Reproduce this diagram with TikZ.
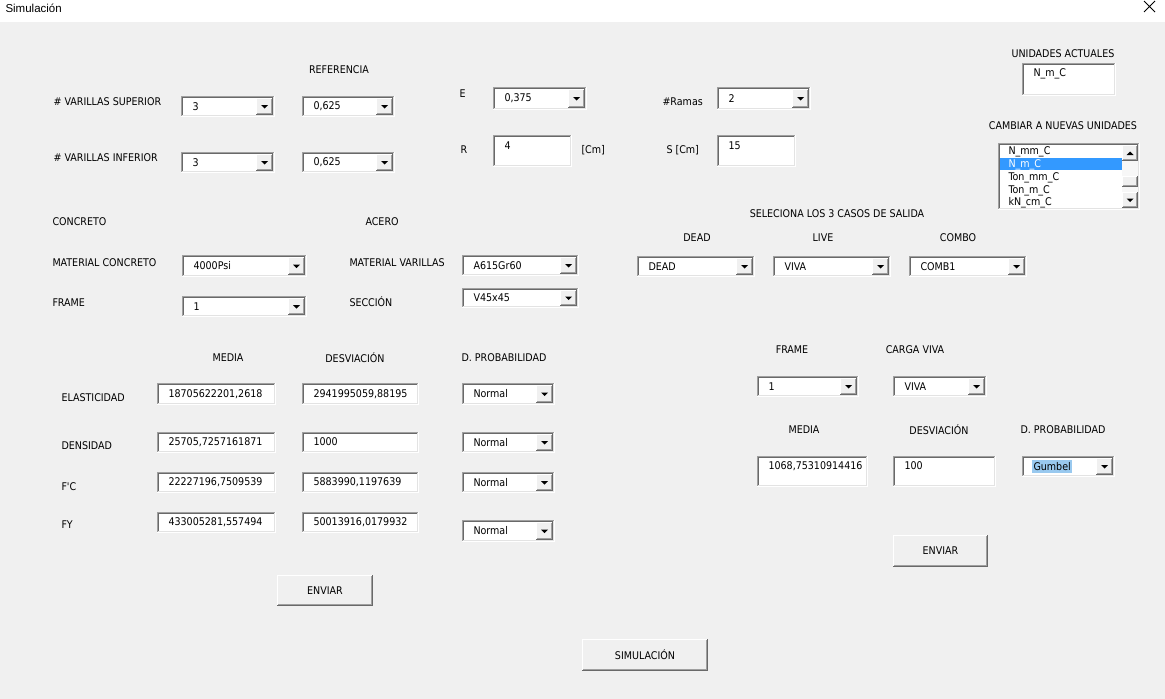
\documentclass[tikz,border=0pt]{standalone}
\usepackage{fontspec}
\newfontfamily\ui{DejaVu Sans Condensed}
\newfontfamily\ttl{Liberation Sans}
\definecolor{bg}{HTML}{F0F0F0}
\definecolor{dk}{HTML}{696969}
\definecolor{md}{HTML}{A0A0A0}
\definecolor{lt}{HTML}{E3E3E3}
\definecolor{sel}{HTML}{3399FF}
\definecolor{hl}{HTML}{99C9EF}
\definecolor{btnface}{HTML}{F0F0F0}
\definecolor{track}{HTML}{F7F7F7}
\tikzset{
 lbl/.style={anchor=west,inner sep=0pt,font=\ui\fontsize{10.6}{12}\selectfont},
 clbl/.style={anchor=center,inner sep=0pt,font=\ui\fontsize{10.6}{12}\selectfont},
 val/.style={anchor=west,inner sep=0pt,font=\ui\fontsize{10.6}{12}\selectfont},
 face/.style={inner sep=0pt,outer sep=0pt,anchor=north west,draw=none},
}
\newcommand\sunken[5]{%
 \node[face,fill=white,minimum width={(#4)-(#2)},minimum height={(#5)-(#3)}] (#1) at ({#2},{#3}) {};
 \draw[md] ({(#2)+0.5},{#5}) -- ({(#2)+0.5},{(#3)+0.5}) -- ({#4},{(#3)+0.5});
 \draw[dk] ({(#2)+1.5},{(#5)-1}) -- ({(#2)+1.5},{(#3)+1.5}) -- ({(#4)-1},{(#3)+1.5});
 \draw[white] ({#2},{(#5)-0.5}) -- ({(#4)-0.5},{(#5)-0.5}) -- ({(#4)-0.5},{#3});
 \draw[lt] ({(#2)+1},{(#5)-1.5}) -- ({(#4)-1.5},{(#5)-1.5}) -- ({(#4)-1.5},{(#3)+1});
}
\newcommand\raised[5]{%
 \node[face,fill=btnface,minimum width={(#4)-(#2)},minimum height={(#5)-(#3)}] (#1) at ({#2},{#3}) {};
 \draw[white] ({(#2)+0.5},{(#5)-1}) -- ({(#2)+0.5},{(#3)+0.5}) -- ({(#4)-1},{(#3)+0.5});
 \draw[dk] ({#2},{(#5)-0.5}) -- ({(#4)-0.5},{(#5)-0.5}) -- ({(#4)-0.5},{#3});
 \draw[md] ({(#2)+1},{(#5)-1.5}) -- ({(#4)-1.5},{(#5)-1.5}) -- ({(#4)-1.5},{(#3)+1});
}
\newcommand\combo[6]{%
 \sunken{#1}{#2}{#3}{#4}{#5}
 \raised{#1-b}{(#4)-19}{(#3)+2}{(#4)-2}{(#5)-2}
 \fill ({(#4)-14},{((#3)+(#5))/2-1.5}) -- ({(#4)-7},{((#3)+(#5))/2-1.5}) -- ({(#4)-10.5},{((#3)+(#5))/2+2}) -- cycle;
 \node[val] (#1-t) at ({(#2)+11},{((#3)+(#5))/2}) {#6};
}
\newcommand\tbox[7]{%
 \sunken{#1}{#2}{#3}{#4}{#5}
 \node[val] (#1-t) at ({(#2)+11},{#7}) {#6};
}
\newcommand\pbtn[6]{%
 \raised{#1}{#2}{#3}{#4}{#5}
 \node[clbl] (#1-t) at (#1.center) {#6};
}
\begin{document}
\begin{tikzpicture}[x=1pt,y=-1pt,line width=1pt]
\useasboundingbox (0,0) rectangle (1165,699);
\fill[white] (0,0) rectangle (1165,22);
\fill[bg] (0,22) rectangle (1165,699);
\node[anchor=west,inner sep=0pt,font=\ttl\fontsize{11.5}{13}\selectfont] (title) at (5,8) {Simulación};
\coordinate (xa) at (1144,1); \coordinate (xb) at (1155,12);
\coordinate (xc) at (1144,12); \coordinate (xd) at (1155,1);
\draw[line width=0.8pt] (xa) -- (xb) (xc) -- (xd);

% top-left
\node[clbl] (ref) at (339,70) {REFERENCIA};
\node[lbl] (vsup) at (53,102) {\# VARILLAS SUPERIOR};
\combo{cs1}{181}{96}{275}{117}{3}
\combo{cs2}{302}{96}{395}{117}{0,625}
\node[lbl] (vinf) at (53,158) {\# VARILLAS INFERIOR};
\combo{ci1}{181}{152}{275}{173}{3}
\combo{ci2}{302}{152}{395}{173}{0,625}

% middle top
\node[lbl] (lE) at (459,94) {E};
\combo{cE}{493}{87}{587}{110}{0,375}
\node[lbl] (lRam) at (662,102) {\#Ramas};
\combo{cRam}{717}{87}{811}{110}{2}
\node[lbl] (lR) at (460,150) {R};
\tbox{tR}{493}{135}{572}{167}{4}{146}
\node[lbl] (lcm) at (581,150) {[Cm]};
\node[lbl] (lS) at (666,150) {S [Cm]};
\tbox{tS}{717}{135}{796}{167}{15}{146}

% top right
\node[clbl] (uact) at (1063,54) {UNIDADES ACTUALES};
\tbox{tU}{1022}{63}{1116}{96}{N\_m\_C}{74}
\node[clbl] (unew) at (1063,126) {CAMBIAR A NUEVAS UNIDADES};
\sunken{lst}{998}{143}{1140}{210}
\fill[sel] (1000,158) rectangle (1122,170);
\node[val] (i1) at (1008,152) {N\_mm\_C};
\node[val,text=white] (i2) at (1008,164.5) {N\_m\_C};
\node[val] (i3) at (1008,177.5) {Ton\_mm\_C};
\node[val] (i4) at (1008,190.5) {Ton\_m\_C};
\node[val] (i5) at (1008,203) {kN\_cm\_C};
\fill[track] (1122,145) rectangle (1138,208);
\raised{sup}{1122}{145}{1138}{161}
\fill (1126.5,155) -- (1133.5,155) -- (1130,151.5) -- cycle;
\raised{sth}{1122}{176}{1138}{187}
\raised{sdn}{1122}{192}{1138}{208}
\fill (1126.5,198.5) -- (1133.5,198.5) -- (1130,202) -- cycle;

% materials
\node[lbl] (lcon) at (52,222) {CONCRETO};
\node[lbl] (lace) at (365,222) {ACERO};
\node[lbl] (lmc) at (52,263) {MATERIAL CONCRETO};
\combo{cmc}{182}{255}{307}{277}{4000Psi}
\node[lbl] (lfr) at (52,303) {FRAME};
\combo{cfr}{182}{296}{307}{317}{1}
\node[lbl] (lmv) at (349,263) {MATERIAL VARILLAS};
\combo{cmv}{462}{255}{579}{276}{A615Gr60}
\node[lbl] (lsec) at (349,302) {SECCIÓN};
\combo{csec}{462}{288}{579}{308}{V45x45}

% output cases
\node[clbl] (lsel) at (837,214) {SELECIONA LOS 3 CASOS DE SALIDA};
\node[clbl] (ldead) at (697,238) {DEAD};
\node[clbl] (llive) at (823,238) {LIVE};
\node[clbl] (lcombo) at (958,238) {COMBO};
\combo{cdead}{637}{256}{755}{277}{DEAD}
\combo{clive}{773}{256}{891}{277}{VIVA}
\combo{ccomb}{909}{256}{1027}{277}{COMB1}

% lower-left table
\node[clbl] (hm) at (228,358) {MEDIA};
\node[clbl] (hd) at (355,358) {DESVIACIÓN};
\node[clbl] (hp) at (504,358) {D. PROBABILIDAD};
\node[lbl] (lel) at (61,398) {ELASTICIDAD};
\tbox{m1}{157}{383}{276}{405}{18705622201,2618}{394}
\tbox{d1}{302}{383}{419}{405}{2941995059,88195}{394}
\combo{p1}{462}{383}{555}{405}{Normal}
\node[lbl] (lden) at (61,446) {DENSIDAD};
\tbox{m2}{157}{432}{276}{453}{25705,7257161871}{442}
\tbox{d2}{302}{432}{419}{453}{1000}{442}
\combo{p2}{462}{432}{555}{453}{Normal}
\node[lbl] (lfc) at (61,487) {F'C};
\tbox{m3}{157}{472}{276}{493}{22227196,7509539}{482}
\tbox{d3}{302}{472}{419}{493}{5883990,1197639}{482}
\combo{p3}{462}{472}{555}{493}{Normal}
\node[lbl] (lfy) at (61,525) {FY};
\tbox{m4}{157}{512}{276}{533}{433005281,557494}{522}
\tbox{d4}{302}{512}{419}{533}{50013916,0179932}{522}
\combo{p4}{462}{520}{555}{542}{Normal}
\pbtn{env1}{277}{575}{373}{606}{ENVIAR}

% lower-right
\node[clbl] (rfr) at (792,350) {FRAME};
\node[clbl] (rcv) at (915,350) {CARGA VIVA};
\combo{crf}{757}{376}{859}{397}{1}
\combo{crv}{893}{376}{987}{397}{VIVA}
\node[clbl] (rm) at (804,430) {MEDIA};
\node[clbl] (rd) at (939,430) {DESVIACIÓN};
\node[clbl] (rp) at (1063,430) {D. PROBABILIDAD};
\tbox{rmv}{757}{456}{868}{487}{1068,75310914416}{466}
\tbox{rdv}{893}{456}{996}{487}{100}{466}
\combo{cgum}{1022}{456}{1115}{477}{}
\fill[hl] (1032,460) rectangle (1072,473);
\node[val] (gum) at (1033,466.5) {Gumbel};
\pbtn{env2}{893}{535}{988}{567}{ENVIAR}

\pbtn{sim}{582}{639}{708}{671}{SIMULACIÓN}
\end{tikzpicture}
\end{document}
